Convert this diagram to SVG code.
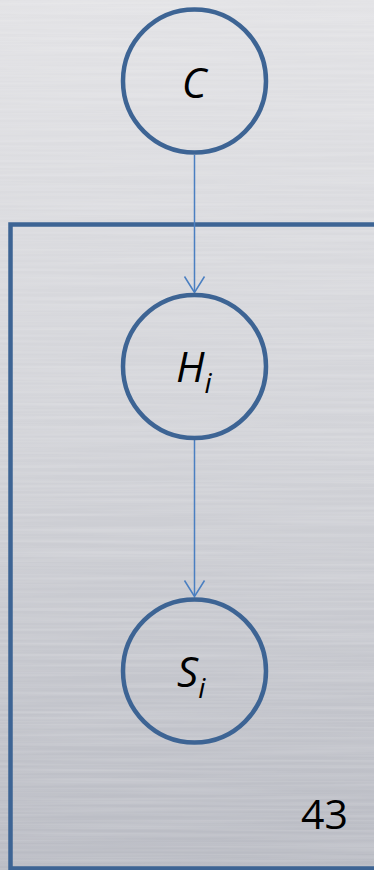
<svg xmlns="http://www.w3.org/2000/svg" width="374" height="870" viewBox="0 0 374 870">
<style>
.node{fill:none;stroke:#3d6494;stroke-width:4.5}
.plate{fill:none;stroke:#3d6494;stroke-width:4.5}
.edge{fill:none;stroke:#4a7fc1;stroke-width:1.5}
.lbl{font-family:"Open Sans","Noto Sans",sans-serif;font-style:italic;fill:#000}
.num{font-family:"Open Sans","Noto Sans",sans-serif;fill:#000}
</style>
<defs>
<linearGradient id="bg" x1="0" y1="0" x2="0" y2="1">
<stop offset="0" stop-color="#e2e2e5"/>
<stop offset="0.5" stop-color="#d2d3d8"/>
<stop offset="1" stop-color="#b9bbc3"/>
</linearGradient>
<filter id="brush" x="0" y="0" width="100%" height="100%">
<feTurbulence type="fractalNoise" baseFrequency="0.004 0.35" numOctaves="2" seed="3"/>
<feColorMatrix type="matrix" values="0 0 0 0 1  0 0 0 0 1  0 0 0 0 1  0 0 0 0.35 -0.12"/>
</filter>
</defs>
<rect width="374" height="870" fill="url(#bg)"/>
<rect width="374" height="870" filter="url(#brush)"/>
<g id="plate"><path class="plate" d="M380 224.5 H10.5 V868.5 H380"/></g>
<g id="connectors">
<line class="edge" x1="194.5" y1="155" x2="194.5" y2="292"/>
<path class="edge" d="M184.5 276.5 L194.5 292.5 L204.5 276.5"/>
<line class="edge" x1="194.5" y1="440" x2="194.5" y2="596"/>
<path class="edge" d="M184.5 580.5 L194.5 596.5 L204.5 580.5"/>
</g>
<g id="node-C">
<circle class="node" cx="194.5" cy="81" r="71.5"/>
<text class="lbl" x="194" y="98" font-size="42" text-anchor="middle">C</text>
</g>
<g id="node-H">
<circle class="node" cx="194.5" cy="366.5" r="71.5"/>
<text class="lbl" x="176" y="382" font-size="42">H<tspan font-size="28" dy="11">i</tspan></text>
</g>
<g id="node-S">
<circle class="node" cx="194.5" cy="671" r="71.5"/>
<text class="lbl" x="177" y="687" font-size="42">S<tspan font-size="28" dy="11">i</tspan></text>
</g>
<text class="num" x="301" y="829" font-size="41">43</text>
</svg>
